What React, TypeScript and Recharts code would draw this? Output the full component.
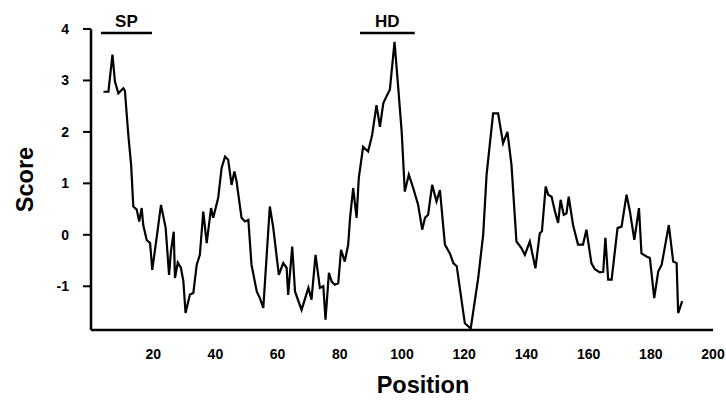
import { LineChart, Line, XAxis, YAxis, ReferenceLine, Label } from "recharts";

// residue position along the sequence
const positions = [
  4.0, 5.6, 6.9, 7.7, 8.8, 10.4, 10.9, 12.0, 12.9, 13.6, 14.7, 15.5, 16.3, 16.8, 17.9, 19.0, 19.7,
  21.1, 22.5, 24.0, 25.1, 25.7, 26.6, 27.0, 27.9, 28.9, 29.7, 30.4, 31.8, 32.9, 34.0, 35.0, 36.1,
  37.2, 38.6, 39.3, 40.9, 42.0, 43.1, 44.1, 45.2, 46.1, 46.8, 48.4, 49.5, 50.6, 51.6, 53.3, 54.3,
  55.4, 57.5, 58.6, 60.4, 61.8, 62.9, 63.4, 64.7, 65.6, 67.7, 69.9, 70.9, 72.2, 73.6, 74.7, 75.4,
  76.5, 77.4, 78.4, 79.5, 80.4, 81.6, 82.7, 83.3, 84.3, 85.4, 86.1, 87.5, 89.1, 90.4, 91.8, 92.9,
  94.0, 95.0, 96.1, 97.6, 98.8, 99.9, 100.9, 102.2, 103.6, 105.2, 106.5, 107.4, 108.4, 109.7,
  111.1, 112.2, 113.8, 115.4, 116.5, 117.6, 120.2, 122.1, 124.5, 126.1, 127.2, 129.3, 130.9,
  132.5, 133.9, 135.2, 136.8, 138.4, 139.5, 141.1, 142.9, 144.3, 145.0, 146.2, 147.0, 148.1,
  149.2, 150.2, 151.0, 152.0, 152.9, 153.6, 155.0, 156.6, 158.2, 159.3, 160.9, 162.0, 163.6,
  164.7, 165.4, 166.3, 167.4, 169.3, 170.6, 172.2, 173.3, 174.7, 176.2, 177.0, 178.6, 179.7,
  181.1, 182.4, 183.5, 185.8, 187.2, 188.3, 188.8, 190.1,
];

// hydropathy score at each position
const scores = [
  2.78, 2.78, 3.5, 2.98, 2.75, 2.85, 2.8, 1.94, 1.36, 0.55, 0.49, 0.26, 0.52, 0.19, -0.1, -0.16, -0.68,
  -0.06, 0.58, 0.14, -0.78, -0.32, 0.06, -0.84, -0.54, -0.64, -0.9, -1.52, -1.16, -1.13, -0.58, -0.39, 0.45,
  -0.16, 0.52, 0.33, 0.72, 1.3, 1.52, 1.46, 0.97, 1.23, 1.04, 0.33, 0.26, 0.29, -0.58, -1.1, -1.23,
  -1.42, 0.55, 0.14, -0.78, -0.55, -0.64, -1.17, -0.23, -1.1, -1.46, -1.03, -1.26, -0.39, -1.03, -1.0, -1.65,
  -0.74, -0.91, -0.97, -0.94, -0.29, -0.52, -0.19, 0.33, 0.91, 0.33, 1.1, 1.71, 1.62, 1.94, 2.52, 2.1,
  2.56, 2.69, 2.82, 3.75, 2.85, 2.0, 0.84, 1.17, 0.91, 0.58, 0.1, 0.33, 0.39, 0.97,
  0.65, 0.87, -0.19, -0.36, -0.55, -0.61, -1.72, -1.82, -0.84, 0.0, 1.17, 2.36, 2.36,
  1.78, 2.0, 1.36, -0.13, -0.26, -0.39, -0.13, -0.65, 0.03, 0.07, 0.94, 0.78, 0.74,
  0.45, 0.23, 0.68, 0.39, 0.42, 0.74, 0.19, -0.19, -0.19, 0.1, -0.55, -0.67, -0.73,
  -0.72, -0.06, -0.87, -0.87, 0.13, 0.16, 0.78, 0.45, -0.1, 0.52, -0.36, -0.42, -0.45,
  -1.23, -0.71, -0.58, 0.19, -0.52, -0.55, -1.52, -1.29,
];

const xTicks = [20, 40, 60, 80, 100, 120, 140, 160, 180, 200];
const yTicks = [-1, 0, 1, 2, 3, 4];

// annotated regions: [start, end, label]
const regions: [number, number, string][] = [
  [3.2, 19.6, "SP"],
  [86.5, 104.1, "HD"],
];
const regionBarY = 3.92;

const data = positions.map((pos, i) => ({ pos, score: scores[i] }));

const font = "'Liberation Sans', Arial, Helvetica, sans-serif";
const tickStyle = { fontSize: 14, fontWeight: 700, fill: "#000", fontFamily: font };

export default function App() {
  return (
    <div style={{ position: "fixed", left: 0, top: 0, width: 726, height: 408, background: "#fff" }}>
      <LineChart width={726} height={408} data={data} margin={{ top: 29, right: 13, bottom: 0, left: 0 }}>
        <XAxis
          dataKey="pos"
          type="number"
          domain={[0, 200]}
          ticks={xTicks}
          tickLine={false}
          tickSize={0}
          tickMargin={19}
          height={78}
          axisLine={{ stroke: "#000", strokeWidth: 2.5 }}
          tick={tickStyle}
        >
          <Label
            content={({ viewBox }: any) => (
              <text
                x={viewBox.x + viewBox.width / 2 + 21}
                y={viewBox.y + 63}
                textAnchor="middle"
                fontFamily={font}
                fontWeight={700}
                fontSize={23.5}
                fill="#000"
              >
                Position
              </text>
            )}
          />
        </XAxis>
        <YAxis
          type="number"
          domain={[-1.85, 4]}
          ticks={yTicks}
          width={91}
          tickSize={8}
          tickMargin={14}
          allowDataOverflow
          axisLine={{ stroke: "#000", strokeWidth: 2.5 }}
          tickLine={{ stroke: "#000", strokeWidth: 2 }}
          tick={tickStyle}
        >
          <Label
            content={({ viewBox }: any) => (
              <text
                x={25}
                y={viewBox.y + viewBox.height / 2}
                textAnchor="middle"
                dominantBaseline="central"
                transform={`rotate(-90 25 ${viewBox.y + viewBox.height / 2})`}
                fontFamily={font}
                fontWeight={700}
                fontSize={23.5}
                fill="#000"
              >
                Score
              </text>
            )}
          />
        </YAxis>
        {regions.map(([a, b, name]) => (
          <ReferenceLine
            key={name}
            segment={[
              { x: a, y: regionBarY },
              { x: b, y: regionBarY },
            ]}
            stroke="#000"
            strokeWidth={2.5}
            ifOverflow="visible"
            label={{ value: name, position: "top", offset: 6, style: { ...tickStyle, fontSize: 17 } }}
          />
        ))}
        <Line
          type="linear"
          dataKey="score"
          stroke="#000"
          strokeWidth={2.2}
          dot={false}
          isAnimationActive={false}
        />
      </LineChart>
    </div>
  );
}
